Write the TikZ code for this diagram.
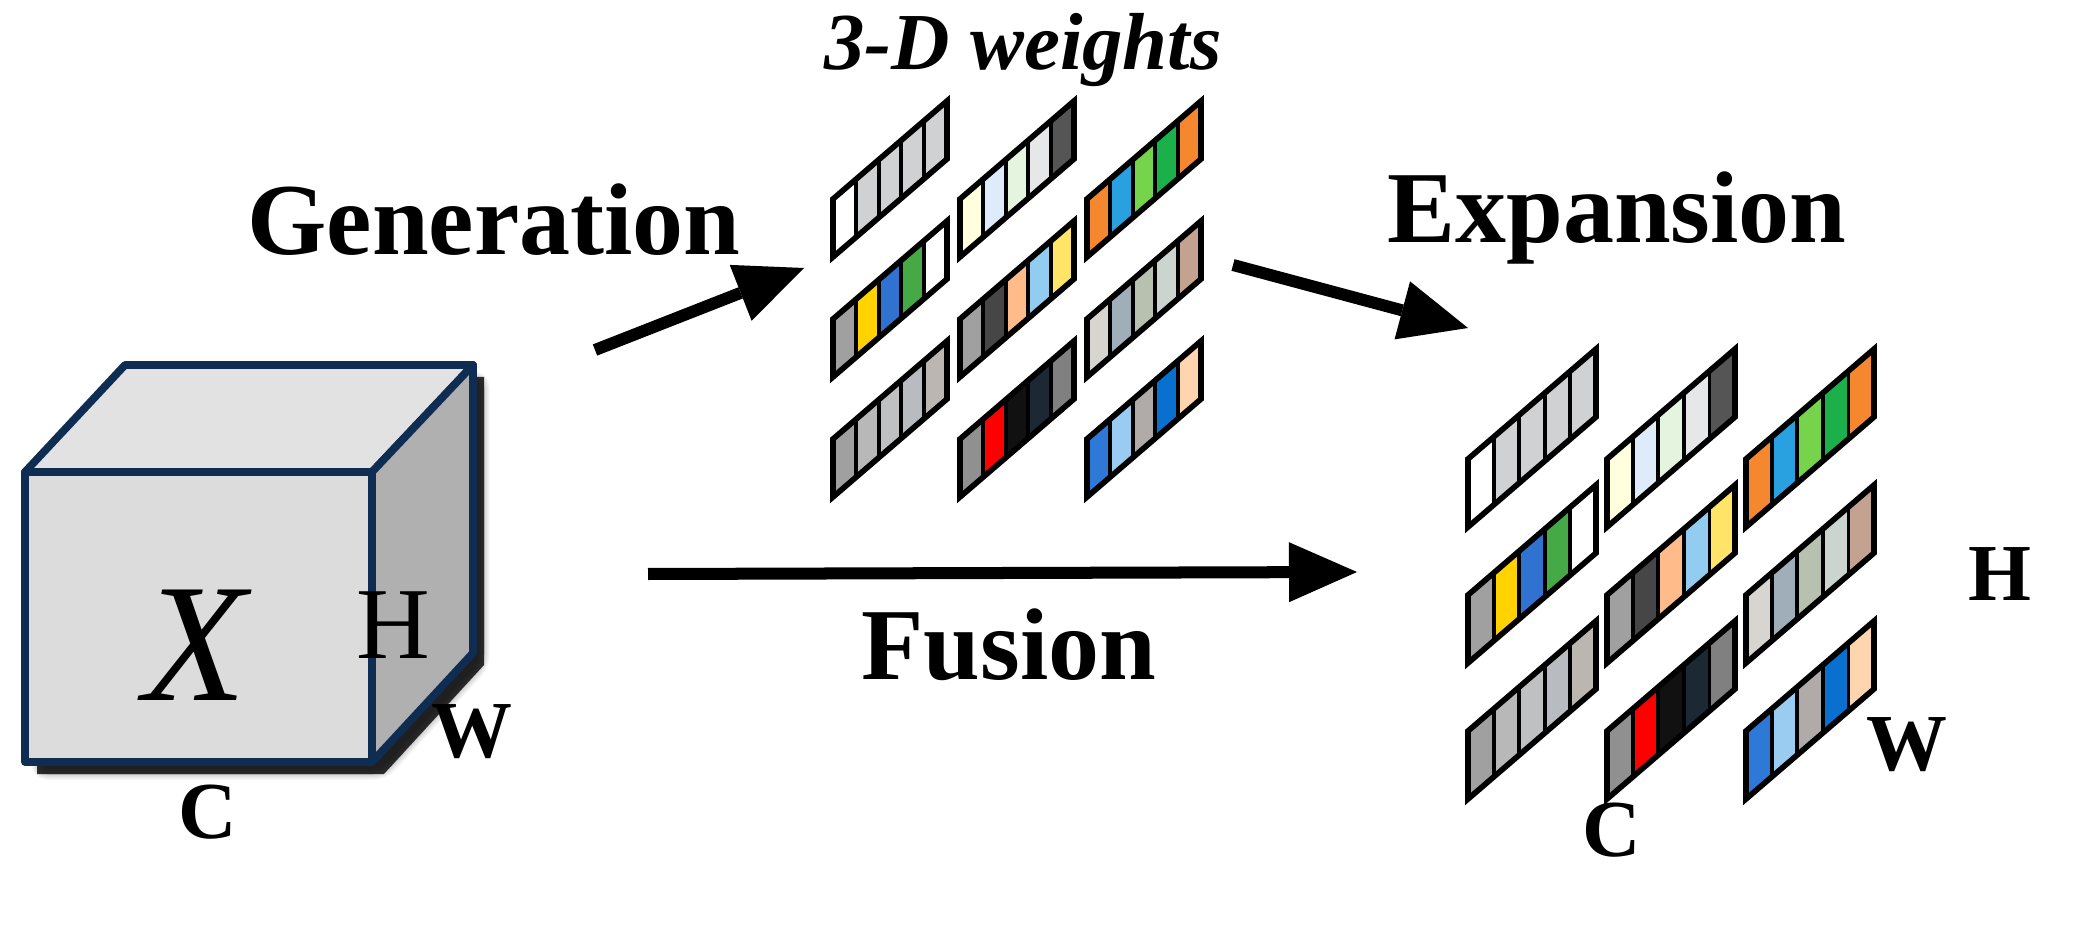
\documentclass[tikz,border=0pt]{standalone}
\usepackage{fontspec}
\setmainfont{Liberation Serif}
\usetikzlibrary{shadows.blur,arrows.meta}
\definecolor{cW}{HTML}{FFFFFF}\definecolor{cLg}{HTML}{CFD1D3}
\definecolor{cLy}{HTML}{FFFFDD}\definecolor{cLb}{HTML}{DDEBFB}\definecolor{cLgr}{HTML}{E4F4DE}
\definecolor{cLgy}{HTML}{E6E7E8}\definecolor{cDg}{HTML}{555555}
\definecolor{cOr}{HTML}{F5882E}\definecolor{cBl}{HTML}{29A0E0}\definecolor{cGl}{HTML}{76D44C}\definecolor{cGr}{HTML}{1BB04A}
\definecolor{cGy}{HTML}{A0A0A0}\definecolor{cYe}{HTML}{FFD200}\definecolor{cBm}{HTML}{2F72D0}\definecolor{cGm}{HTML}{45AA45}
\definecolor{cDk}{HTML}{464646}\definecolor{cPe}{HTML}{FFBB8A}\definecolor{cSk}{HTML}{92CCF0}\definecolor{cYl}{HTML}{FFE468}
\definecolor{cA1}{HTML}{D8D4D0}\definecolor{cA2}{HTML}{A0AEBA}\definecolor{cA3}{HTML}{B8C0B0}\definecolor{cA4}{HTML}{CCD4D0}\definecolor{cA5}{HTML}{C4A290}
\definecolor{cB2}{HTML}{B8B8B8}\definecolor{cB3}{HTML}{BEC0C2}\definecolor{cB4}{HTML}{B8BCC0}\definecolor{cB5}{HTML}{BCB6B0}
\definecolor{cC1}{HTML}{909090}\definecolor{cRe}{HTML}{FF0000}\definecolor{cBk}{HTML}{111111}\definecolor{cNv}{HTML}{1C2834}\definecolor{cC5}{HTML}{808080}
\definecolor{cD1}{HTML}{2E78D8}\definecolor{cD2}{HTML}{99CCF0}\definecolor{cD3}{HTML}{B0ABA8}\definecolor{cD4}{HTML}{0A70D0}\definecolor{cD5}{HTML}{FFD5B0}
\definecolor{cubeFront}{HTML}{DCDCDC}\definecolor{cubeTop}{HTML}{E2E2E2}\definecolor{cubeSide}{HTML}{B0B0B0}\definecolor{cubeLine}{HTML}{0F2D52}
% strip: x, y (bottom-left, px), width, rise, height, colours
\newcommand\wstrip[6]{%
  \foreach \cc [count=\ii from 0] in {#6}{
    \fill[\cc] ({#1+\ii*#3/5},{#2-\ii*#4/5}) -- ({#1+(\ii+1)*#3/5},{#2-(\ii+1)*#4/5})
      -- ({#1+(\ii+1)*#3/5},{#2-(\ii+1)*#4/5-#5}) -- ({#1+\ii*#3/5},{#2-\ii*#4/5-#5}) -- cycle;
    \draw[cellline] ({#1+\ii*#3/5},{#2-\ii*#4/5}) -- ({#1+\ii*#3/5},{#2-\ii*#4/5-#5});
  }
  \draw[stripline] (#1,#2) -- ({#1+#3},{#2-#4}) -- ({#1+#3},{#2-#4-#5}) -- (#1,{#2-#5}) -- cycle;
}
\newcommand\wgrid[7]{% x0,y0,w,rise,h,dx,dy
  \wstrip{#1}{#2}{#3}{#4}{#5}{cW,cLg,cLg,cLg,cLg}
  \wstrip{#1+#6}{#2}{#3}{#4}{#5}{cLy,cLb,cLgr,cLgy,cDg}
  \wstrip{#1+2*#6}{#2}{#3}{#4}{#5}{cOr,cBl,cGl,cGr,cOr}
  \wstrip{#1}{#2+#7}{#3}{#4}{#5}{cGy,cYe,cBm,cGm,cW}
  \wstrip{#1+#6}{#2+#7}{#3}{#4}{#5}{cGy,cDk,cPe,cSk,cYl}
  \wstrip{#1+2*#6}{#2+#7}{#3}{#4}{#5}{cA1,cA2,cA3,cA4,cA5}
  \wstrip{#1}{#2+2*#7}{#3}{#4}{#5}{cGy,cB2,cB3,cB4,cB5}
  \wstrip{#1+#6}{#2+2*#7}{#3}{#4}{#5}{cC1,cRe,cBk,cNv,cC5}
  \wstrip{#1+2*#6}{#2+2*#7}{#3}{#4}{#5}{cD1,cD2,cD3,cD4,cD5}
}
\begin{document}
\begin{tikzpicture}[x=0.01cm,y=-0.01cm,
  cellline/.style={line width=1.1pt,black},
  stripline/.style={line width=1.6pt,black},
  big/.style={font=\fontsize{29}{29}\selectfont\bfseries},
  small/.style={font=\fontsize{23}{23}\selectfont\bfseries},
  arr/.style={line width=0.12cm,-{Triangle[length=0.68cm,width=0.6cm,line width=0pt,fill=black]}},
  edge/.style={cubeLine,line width=2.2pt,line join=round}]
\useasboundingbox (0,0) rectangle (2095,925);
% cube
\fill[black,opacity=0.8,blur shadow={shadow blur steps=12,shadow blur extra rounding=3pt,shadow xshift=0pt,shadow yshift=0pt}]
  (37,484) -- (137,377) -- (484,377) -- (484,665) -- (384,774) -- (37,774) -- cycle;
\filldraw[edge,fill=cubeTop] (25,472) -- (125,365) -- (473,365) -- (372,472) -- cycle;
\filldraw[edge,fill=cubeSide] (372,472) -- (473,365) -- (473,653) -- (372,762) -- cycle;
\filldraw[edge,fill=cubeFront] (25,472) rectangle (372,762);
\node (X) at (195,645) {\fontsize{48}{48}\selectfont\itshape X};
\node (Hc) at (393,625) {\fontsize{29}{29}\selectfont H};
\node[small] (Wc) at (472,732) {W};
\node[small] (Cc) at (208,812) {C};
% grids
\wgrid{833}{257}{114}{98}{58}{127}{120}
\wgrid{1468}{527}{128}{110}{68}{139}{136}
\node (wt) at (1023,50) {\fontsize{23}{23}\selectfont\bfseries\itshape 3-D weights};
\node[big] (gen) at (494,220) {Generation};
\node[big] (exp) at (1617,218) {Expansion};
\node[big] (fus) at (1009,645) {Fusion};
\node[small] (He) at (2000,574) {H};
\node[small] (We) at (1907,745) {W};
\node[small] (Ce) at (1612,830) {C};
% arrows
\coordinate (g1) at (595,350); \coordinate (g2) at (804,268);
\coordinate (e1) at (1233,265); \coordinate (e2) at (1468,328);
\coordinate (f1) at (648,574); \coordinate (f2) at (1357,572);
\draw[arr] (g1) -- (g2);
\draw[arr] (e1) -- (e2);
\draw[arr] (f1) -- (f2);
\end{tikzpicture}
\end{document}
